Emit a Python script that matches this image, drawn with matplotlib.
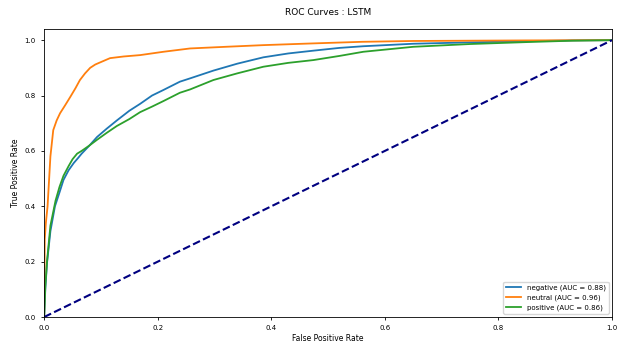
import numpy as np
import matplotlib
matplotlib.use("Agg")
import matplotlib.pyplot as plt

# ── ROC points ────────────────────────────────────────────────────────────────
class_names = ["negative", "neutral", "positive"]
auc_values = [0.88, 0.96, 0.86]

neg_fpr = [0.0, 0.002, 0.005, 0.011, 0.019, 0.027, 0.034, 0.043, 0.052, 0.060,
           0.066, 0.080, 0.093, 0.110, 0.128, 0.150, 0.169, 0.190, 0.210, 0.239,
           0.257, 0.298, 0.340, 0.386, 0.430, 0.474, 0.520, 0.562, 0.650, 0.750,
           0.850, 0.930, 1.0]
neg_tpr = [0.0, 0.10, 0.195, 0.31, 0.40, 0.45, 0.495, 0.53, 0.556, 0.575,
           0.59, 0.62, 0.65, 0.68, 0.71, 0.745, 0.77, 0.80, 0.82, 0.85,
           0.862, 0.89, 0.915, 0.938, 0.952, 0.962, 0.972, 0.978, 0.987, 0.992,
           0.996, 0.999, 1.0]

neu_fpr = [0.0, 0.001, 0.003, 0.006, 0.011, 0.016, 0.022, 0.028, 0.037, 0.046,
           0.055, 0.063, 0.072, 0.081, 0.090, 0.099, 0.116, 0.140, 0.169, 0.210,
           0.257, 0.320, 0.386, 0.470, 0.560, 0.650, 0.750, 0.850, 1.0]
neu_tpr = [0.0, 0.28, 0.34, 0.40, 0.58, 0.675, 0.71, 0.736, 0.765, 0.795,
           0.826, 0.856, 0.88, 0.90, 0.912, 0.92, 0.935, 0.941, 0.946, 0.958,
           0.970, 0.976, 0.982, 0.988, 0.994, 0.997, 0.998, 0.999, 1.0]

pos_fpr = [0.0, 0.002, 0.005, 0.011, 0.020, 0.027, 0.034, 0.043, 0.050, 0.058,
           0.066, 0.080, 0.093, 0.110, 0.128, 0.150, 0.169, 0.190, 0.210, 0.239,
           0.257, 0.298, 0.340, 0.386, 0.430, 0.474, 0.520, 0.562, 0.650, 0.750,
           0.850, 0.930, 1.0]
pos_tpr = [0.0, 0.11, 0.20, 0.33, 0.42, 0.47, 0.51, 0.545, 0.57, 0.59,
           0.60, 0.62, 0.64, 0.665, 0.69, 0.715, 0.74, 0.76, 0.78, 0.81,
           0.822, 0.856, 0.88, 0.904, 0.918, 0.928, 0.943, 0.958, 0.976, 0.986,
           0.993, 0.998, 1.0]

curves = [(neg_fpr, neg_tpr), (neu_fpr, neu_tpr), (pos_fpr, pos_tpr)]
colors = ["tab:blue", "tab:orange", "tab:green"]

fig, ax = plt.subplots(figsize=(6.22, 3.42), dpi=100)
fig.subplots_adjust(left=0.071, right=0.984, bottom=0.073, top=0.915)

for name, auc, (fpr, tpr), c in zip(class_names, auc_values, curves, colors):
    ax.plot(fpr, tpr, color=c, lw=1.3, label=f"{name} (AUC = {auc:.2f})")

ax.plot([0, 1], [0, 1], color="navy", lw=1.5, linestyle="--")

ax.set_xlim(0.0, 1.0)
ax.set_ylim(0.0, 1.04)
ax.set_xticks(np.arange(0, 1.01, 0.2))
ax.set_yticks(np.arange(0, 1.01, 0.2))
ax.tick_params(labelsize=5, length=2.5, width=0.6)
ax.set_xlabel("False Positive Rate", fontsize=5.5, labelpad=2)
ax.set_ylabel("True Positive Rate", fontsize=5.5, labelpad=3)
ax.set_title("ROC Curves : LSTM", fontsize=6.5, pad=10)
for s in ax.spines.values():
    s.set_linewidth(0.6)
ax.legend(loc="lower right", fontsize=5, frameon=True, handlelength=2.2)

fig.savefig("out.png", dpi=100)
